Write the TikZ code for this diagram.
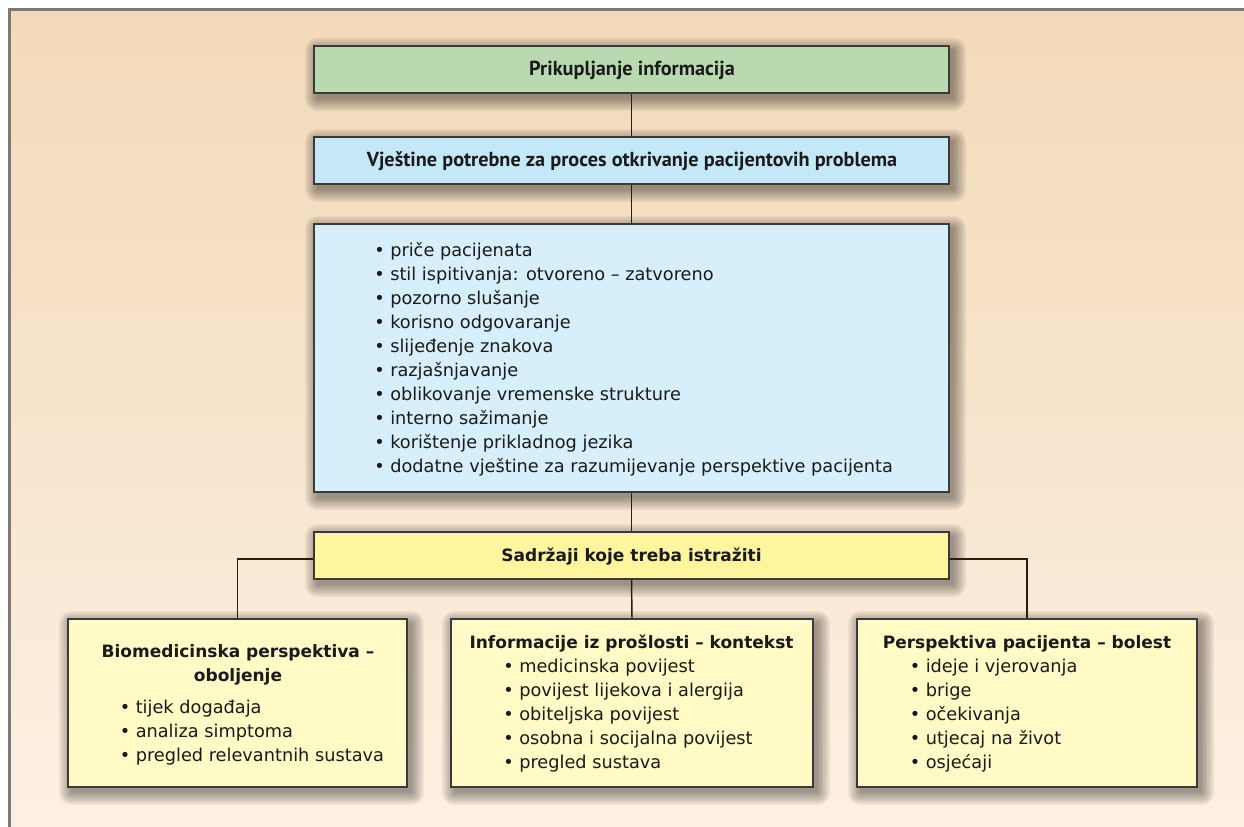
\documentclass[tikz,border=0pt]{standalone}
\usepackage{fontspec}
\setmainfont{DejaVu Sans}
\newfontfamily\hfont{PT Sans}
\usetikzlibrary{calc}
\definecolor{bgtop}{HTML}{F2D9B9}
\definecolor{bgbot}{HTML}{FDF0E2}
\definecolor{framec}{HTML}{7A7A7A}
\definecolor{greenc}{HTML}{B9D9B0}
\definecolor{blueA}{HTML}{C4E8F8}
\definecolor{blueB}{HTML}{D7EFFA}
\definecolor{yellowA}{HTML}{FFF59E}
\definecolor{yellowB}{HTML}{FFFAC6}
\definecolor{boxline}{HTML}{3A3A3A}
\definecolor{connc}{HTML}{2B1B10}
\definecolor{txt}{HTML}{1A1A1A}
\pgfdeclarelayer{bglayer}
\pgfdeclarelayer{shlayer}
\pgfsetlayers{bglayer,shlayer,main}
\tikzset{
  box/.style={draw=boxline, line width=0.9pt, inner sep=0pt, rectangle},
  conn/.style={draw=connc, line width=1.1pt},
  htitle/.style={font=\hfont\bfseries\fontsize{15.2}{18}\selectfont, text=txt, inner sep=0pt, anchor=base},
  btitle/.style={font=\bfseries\fontsize{12.75}{18}\selectfont, text=txt, inner sep=0pt, anchor=base},
  item/.style={font=\fontsize{13.3}{18}\selectfont, text=txt, inner sep=0pt, anchor=base west},
}
\newcommand\itm[1]{\makebox[12pt][l]{•}#1}
\begin{document}
\begin{tikzpicture}[x=0.75pt,y=-0.75pt]
\useasboundingbox (0,0) rectangle (1244,826);
\begin{pgfonlayer}{bglayer}
  \fill[white] (0,0) rectangle (1244,826);
  \shade[top color=bgtop, bottom color=bgbot] (9,9) rectangle (1250,830);
  \draw[framec, line width=1.7pt] (9.5,840) -- (9.5,9.5) -- (1260,9.5);
\end{pgfonlayer}

% boxes
\node[box, fill=greenc, minimum width=476.25pt, minimum height=35.25pt] (G) at (631.5,69.5) {};
\node[box, fill=blueA, minimum width=476.25pt, minimum height=35.25pt] (B1) at (631.5,160.5) {};
\node[box, fill=blueB, minimum width=476.25pt, minimum height=201pt] (B2) at (631.5,358) {};
\node[box, fill=yellowA, minimum width=476.25pt, minimum height=35.25pt] (Y) at (631.5,555.5) {};
\node[box, fill=yellowB, minimum width=254.25pt, minimum height=126pt] (L) at (237.5,703) {};
\node[box, fill=yellowB, minimum width=271.5pt, minimum height=126pt] (M) at (632,703) {};
\node[box, fill=yellowB, minimum width=255pt, minimum height=126pt] (R) at (1027,703) {};

% shadows
\begin{pgfonlayer}{shlayer}
\foreach \n in {G,B1,B2,Y,L,M,R}{
  \foreach \i in {1,...,10}{
    \pgfmathsetmacro\e{(10-\i)*1.4}
    \pgfmathsetmacro\rc{\e*0.75+0.01}
    \fill[black, opacity=0.045, rounded corners=\rc pt]
      ([shift={(4-\e,5-\e)}]\n.north west) rectangle ([shift={(4+\e,5+\e)}]\n.south east);
  }
}
\end{pgfonlayer}

% connectors
\draw[conn] (G.south) -- (B1.north);
\draw[conn] (B1.south) -- (B2.north);
\draw[conn] (B2.south) -- (Y.north);
\draw[conn] (Y.south) -- (M.north);
\draw[conn] ([yshift=-2.6pt]Y.west) -| (L.north);
\draw[conn] ([yshift=-2.6pt]Y.east) -| (R.north);

% titles
\node[htitle] (Gt) at (632,75.5) {Prikupljanje informacija};
\node[htitle] (B1t) at (632,166.5) {Vještine potrebne za proces otkrivanje pacijentovih problema};
\node[btitle] (Yt) at (631.5,561) {Sadržaji koje treba istražiti};
\node[btitle] (Lt1) at (238,657) {Biomedicinska perspektiva –};
\node[btitle] (Lt2) at (238,681) {oboljenje};
\node[btitle] (Mt) at (631.5,648) {Informacije iz prošlosti – kontekst};
\node[btitle] (Rt) at (1027,648) {Perspektiva pacijenta – bolest};

% list in B2
\foreach \t [count=\k] in {priče pacijenata, stil ispitivanja: otvoreno – zatvoreno, pozorno slušanje, korisno odgovaranje, slijeđenje znakova, razjašnjavanje, oblikovanje vremenske strukture, interno sažimanje, korištenje prikladnog jezika, dodatne vještine za razumijevanje perspektive pacijenta}
  \node[item] (Bi\k) at (374,232+24*\k) {\itm{\t}};

\foreach \t [count=\k] in {tijek događaja, analiza simptoma, pregled relevantnih sustava}
  \node[item] (Li\k) at (119.5,689+24*\k) {\itm{\t}};

\foreach \t [count=\k] in {medicinska povijest, povijest lijekova i alergija, obiteljska povijest, osobna i socijalna povijest, pregled sustava}
  \node[item] (Mi\k) at (503,648+24*\k) {\itm{\t}};

\foreach \t [count=\k] in {ideje i vjerovanja, brige, očekivanja, utjecaj na život, osjećaji}
  \node[item] (Ri\k) at (909.5,648+24*\k) {\itm{\t}};
\end{tikzpicture}
\end{document}
